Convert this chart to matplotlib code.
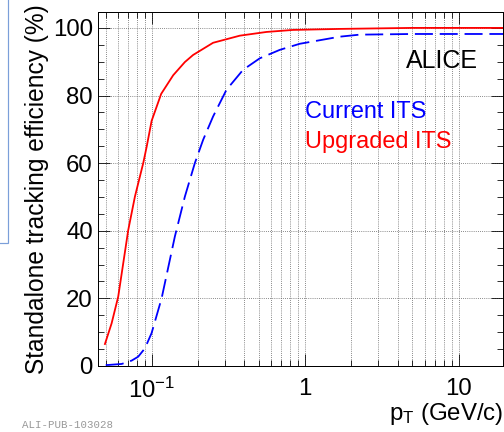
import matplotlib
matplotlib.use("Agg")
import matplotlib.pyplot as plt
from matplotlib.patches import Rectangle
from matplotlib.ticker import FixedLocator, NullFormatter, LogLocator

plt.rcParams['font.family'] = ['Liberation Sans', 'DejaVu Sans']
plt.rcParams['mathtext.fontset'] = 'custom'
plt.rcParams['mathtext.rm'] = 'Liberation Sans'
plt.rcParams['mathtext.it'] = 'Liberation Sans:italic'

# eficiencia (%), ITS atualizado (vermelho)
pt_upgraded = [0.0494, 0.0546, 0.0603, 0.0701, 0.0775, 0.0878, 0.0924, 0.0996,
               0.1150, 0.1377, 0.1641, 0.1858, 0.2507, 0.3743, 0.5587, 0.8325,
               1.678, 5.0, 20.0]
eff_upgraded = [6.5, 12.6, 20.5, 40.2, 50.1, 60.0, 64.8, 72.5,
                80.5, 86.0, 89.9, 92.0, 95.6, 97.7, 98.8, 99.4,
                99.7, 100.0, 100.0]

# ITS atual (azul tracejado)
pt_current = [0.0500, 0.0519, 0.0635, 0.0738, 0.0814, 0.0900, 0.0995, 0.1157,
              0.1412, 0.1641, 0.1906, 0.2159, 0.2507, 0.3066, 0.3933, 0.5053,
              0.6823, 0.921, 1.374, 1.678, 2.26, 5.0, 20.0]
eff_current = [0.3, 0.3, 0.6, 1.6, 2.75, 5.2, 9.7, 20.0,
               38.3, 50.1, 60.0, 66.9, 73.8, 81.7, 87.6, 91.0,
               93.5, 95.3, 96.7, 97.4, 98.0, 98.2, 98.2]

fig = plt.figure(figsize=(7, 6), dpi=72)
ax = fig.add_axes([0.1944, 0.1528, 0.8036, 0.8194])

ax.plot(pt_upgraded, eff_upgraded, color='#ff0000', lw=1.8,
        solid_joinstyle='round')
ax.plot(pt_current, eff_current, color='#0000ff', lw=1.8, dashes=(10, 3.8),
        dash_joinstyle='round')

ax.set_xscale('log')
ax.set_xlim(0.0445, 19.5)
ax.set_ylim(0, 104.7)

ax.xaxis.set_major_locator(FixedLocator([0.1, 1, 10]))
ax.set_xticklabels(['$10^{-1}$', '1', '10'])
ax.xaxis.set_minor_locator(LogLocator(base=10, subs=range(2, 10)))
ax.xaxis.set_minor_formatter(NullFormatter())
ax.set_yticks([0, 20, 40, 60, 80, 100])
ax.yaxis.set_minor_locator(FixedLocator(range(0, 105, 5)))

ax.tick_params(which='both', direction='in', top=True, right=True, width=0.8)
ax.tick_params(which='major', length=12, labelsize=24)
ax.tick_params(axis='x', which='major', pad=12)
ax.tick_params(axis='y', which='major', pad=5)
ax.tick_params(which='minor', length=6)

ax.grid(True, which='major', axis='both', ls=':', color='#555555', lw=0.8)
ax.grid(True, which='minor', axis='x', ls=':', color='#555555', lw=0.8)
for s in ax.spines.values():
    s.set_linewidth(1.0)

ax.set_ylabel('Standalone tracking efficiency (%)', fontsize=24.5, labelpad=4)
ax.set_xlabel('p$_{\\mathrm{T}}$ (GeV/c)', fontsize=24, ha='right', x=1.0, labelpad=-2)

ax.text(0.938, 0.842, 'ALICE', transform=ax.transAxes, fontsize=25, ha='right', va='baseline')
ax.text(0.511, 0.701, 'Current ITS', transform=ax.transAxes, fontsize=23.5,
        color='#0000ff', va='baseline')
ax.text(0.511, 0.616, 'Upgraded ITS', transform=ax.transAxes, fontsize=23.5,
        color='#ff0000', va='baseline')

fig.text(22 / 504, 1 - 428 / 432, 'ALI-PUB-103028', fontsize=10.8,
         family='Liberation Mono', color='#999999', va='baseline')

# caixa azul na margem esquerda
fig.patches.append(Rectangle((-0.05, 1 - 243 / 432), 0.05 + 8 / 504, 1.2,
                             transform=fig.transFigure, fill=False,
                             edgecolor='#7b9fd9', lw=1.2))

fig.savefig('out.png', dpi=72)
